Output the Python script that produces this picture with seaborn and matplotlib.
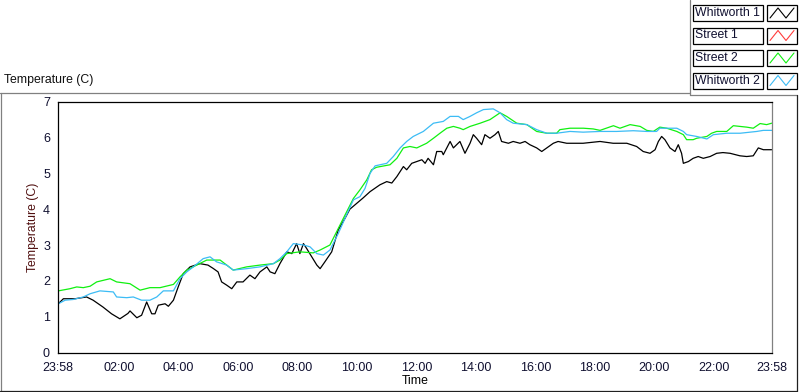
import matplotlib
matplotlib.use("Agg")
import matplotlib.pyplot as plt
import numpy as np
import pandas as pd
import seaborn as sns
from matplotlib.lines import Line2D
from matplotlib.patches import Rectangle

# ---------------- data (hours since 23:58, temperature in C) ----------------
series_names = ["Whitworth 1", "Street 1", "Street 2", "Whitworth 2"]
series_colors = ["#000000", "#ff3c3c", "#10f010", "#3cbcf5"]

w1_hours = [0.00, 0.17, 0.56, 0.95, 1.17, 1.50, 1.79, 2.07, 2.34, 2.41, 2.64, 2.80, 2.97, 3.14,
            3.25, 3.36, 3.59, 3.70, 3.87, 4.03, 4.20, 4.43, 4.76, 5.03, 5.20, 5.37, 5.49, 5.66,
            5.83, 6.00, 6.21, 6.44, 6.61, 6.78, 7.01, 7.12, 7.28, 7.45, 7.68, 7.85, 8.01, 8.12,
            8.24, 8.35, 8.52, 8.69, 8.80, 8.96, 9.19, 9.41, 9.64, 9.80, 10.24, 10.48, 10.81,
            11.04, 11.21, 11.38, 11.49, 11.60, 11.71, 11.88, 12.05, 12.22, 12.33, 12.43, 12.61,
            12.72, 12.89, 12.94, 13.17, 13.28, 13.39, 13.50, 13.67, 13.84, 13.95, 14.06, 14.23,
            14.34, 14.51, 14.68, 14.79, 14.90, 15.13, 15.29, 15.52, 15.69, 15.85, 16.08, 16.25,
            16.42, 16.64, 16.80, 17.09, 17.64, 18.21, 18.65, 19.11, 19.44, 19.66, 19.89, 20.06,
            20.17, 20.28, 20.39, 20.56, 20.73, 20.84, 20.95, 21.01, 21.18, 21.34, 21.51, 21.68,
            21.91, 22.13, 22.34, 22.58, 22.91, 23.14, 23.36, 23.53, 23.70, 23.98]
w1_temp = [1.36, 1.50, 1.50, 1.55, 1.46, 1.27, 1.08, 0.94, 1.09, 1.16, 0.97, 1.04, 1.41, 1.08,
           1.08, 1.32, 1.36, 1.29, 1.46, 1.83, 2.20, 2.39, 2.48, 2.44, 2.35, 2.25, 1.97, 1.88,
           1.78, 1.97, 1.97, 2.16, 2.06, 2.25, 2.39, 2.25, 2.20, 2.48, 2.81, 2.76, 3.04, 2.76,
           3.04, 2.90, 2.67, 2.44, 2.34, 2.53, 2.81, 3.42, 3.75, 4.00, 4.31, 4.49, 4.68,
           4.77, 4.73, 4.91, 5.05, 5.19, 5.10, 5.28, 5.33, 5.38, 5.28, 5.42, 5.24,
           5.61, 5.61, 5.52, 5.89, 5.71, 5.80, 5.89, 5.56, 5.84, 6.08, 5.98, 5.80,
           6.08, 5.98, 6.08, 6.17, 5.89, 5.84, 5.89, 5.84, 5.89, 5.80, 5.71, 5.61,
           5.71, 5.84, 5.89, 5.84, 5.84, 5.89, 5.84, 5.84, 5.75, 5.61, 5.56, 5.66,
           5.89, 6.03, 5.94, 5.71, 5.61, 5.80, 5.56, 5.28, 5.33, 5.42, 5.47, 5.42,
           5.47, 5.56, 5.58, 5.56, 5.49, 5.47, 5.49, 5.71, 5.66, 5.66]

s1_hours = []
s1_temp = []

s2_hours = [0.00, 0.39, 0.62, 0.84, 1.07, 1.29, 1.74, 1.96, 2.41, 2.75, 3.08, 3.42, 3.87, 4.09,
            4.32, 4.65, 4.99, 5.44, 5.66, 5.88, 6.33, 6.78, 7.23, 7.45, 7.68, 8.12, 8.57, 8.80,
            9.13, 9.41, 9.64, 9.92, 10.14, 10.37, 10.53, 10.70, 11.15, 11.38, 11.60, 11.82,
            12.05, 12.38, 12.61, 12.83, 13.06, 13.28, 13.50, 13.61, 13.84, 14.18, 14.51, 14.85,
            15.07, 15.41, 15.75, 16.08, 16.42, 16.75, 16.86, 17.20, 17.65, 17.98, 18.21, 18.66,
            18.88, 19.22, 19.56, 19.78, 20.00, 20.22, 20.45, 20.79, 21.01, 21.12, 21.34, 21.46,
            21.80, 21.96, 22.13, 22.47, 22.69, 23.14, 23.36, 23.59, 23.81, 23.98]
s2_temp = [1.72, 1.78, 1.83, 1.81, 1.85, 1.97, 2.06, 1.97, 1.92, 1.74, 1.81, 1.81, 1.90, 2.11,
           2.30, 2.44, 2.58, 2.58, 2.44, 2.30, 2.39, 2.44, 2.48, 2.58, 2.76, 2.81, 2.78, 2.86,
           3.00, 3.46, 3.84, 4.30, 4.54, 4.82, 5.10, 5.17, 5.24, 5.42, 5.71, 5.75,
           5.71, 5.84, 5.98, 6.12, 6.26, 6.31, 6.26, 6.22, 6.31, 6.40, 6.50, 6.69,
           6.59, 6.40, 6.36, 6.17, 6.12, 6.12, 6.22, 6.26, 6.26, 6.24, 6.20, 6.33,
           6.26, 6.36, 6.31, 6.20, 6.17, 6.29, 6.26, 6.17, 6.08, 5.94, 5.94, 5.98,
           6.03, 6.12, 6.17, 6.17, 6.33, 6.29, 6.26, 6.39, 6.36, 6.40]

w2_hours = [0.00, 0.23, 0.50, 0.84, 1.07, 1.40, 1.85, 1.96, 2.30, 2.52, 2.80, 3.08, 3.31, 3.53,
            3.87, 4.09, 4.32, 4.54, 4.87, 5.10, 5.32, 5.66, 5.88, 6.33, 6.78, 7.23, 7.45, 7.68,
            7.90, 8.24, 8.46, 8.69, 8.91, 9.13, 9.41, 9.64, 9.92, 10.14, 10.31, 10.48, 10.65,
            11.04, 11.26, 11.49, 11.71, 11.93, 12.27, 12.61, 12.94, 13.17, 13.45, 13.61, 13.84,
            14.06, 14.29, 14.62, 14.85, 15.07, 15.29, 15.75, 16.08, 16.42, 16.75, 17.20, 17.64,
            18.21, 18.77, 19.33, 19.78, 20.11, 20.22, 20.79, 21.01, 21.12, 21.46, 21.80, 22.02,
            22.47, 22.92, 23.48, 23.70, 23.98]
w2_temp = [1.36, 1.46, 1.48, 1.55, 1.64, 1.72, 1.69, 1.55, 1.53, 1.55, 1.46, 1.46, 1.55, 1.72,
           1.72, 2.06, 2.25, 2.39, 2.62, 2.67, 2.53, 2.44, 2.30, 2.34, 2.39, 2.48, 2.62, 2.81,
           3.04, 3.00, 2.95, 2.76, 2.72, 2.86, 3.32, 3.75, 4.26, 4.35, 4.58, 5.00, 5.21,
           5.28, 5.47, 5.71, 5.89, 6.03, 6.17, 6.40, 6.45, 6.59, 6.59, 6.50, 6.59,
           6.69, 6.78, 6.80, 6.69, 6.50, 6.40, 6.36, 6.22, 6.12, 6.12, 6.17, 6.15,
           6.17, 6.17, 6.19, 6.17, 6.17, 6.26, 6.26, 6.17, 6.08, 6.03, 5.96, 6.08,
           6.12, 6.12, 6.17, 6.20, 6.20]

x_tick_labels = ["23:58", "02:00", "04:00", "06:00", "08:00", "10:00", "12:00",
                 "14:00", "16:00", "18:00", "20:00", "22:00", "23:58"]
y_ticks = [0, 1, 2, 3, 4, 5, 6, 7]

chart_title = "Temperature (C)"
x_label = "Time"
y_label = "Temperature (C)"

# ---------------- build long table ----------------
frames = []
for name, hrs, tmp in [("Whitworth 1", w1_hours, w1_temp), ("Street 1", s1_hours, s1_temp),
                       ("Street 2", s2_hours, s2_temp), ("Whitworth 2", w2_hours, w2_temp)]:
    if len(hrs):
        frames.append(pd.DataFrame({"hours": hrs, "temp": tmp, "series": name}))
df = pd.concat(frames, ignore_index=True)

# tick positions from labels (hours since 23:58)
start_min = 23 * 60 + 58
x_tick_pos = []
for i, lab in enumerate(x_tick_labels):
    h, m = map(int, lab.split(":"))
    p = ((h * 60 + m - start_min) % 1440) / 60.0
    if i == len(x_tick_labels) - 1:
        p = 24.0
    x_tick_pos.append(p)
minor_pos = [x_tick_pos[1] + 0.2 * k for k in range(-10, 111)]
minor_pos = [p for p in minor_pos if 0 < p < 24 and min(abs(p - q) for q in x_tick_pos) > 0.05]

# ---------------- figure ----------------
sns.set_style("white")
plt.rcParams["font.family"] = ["Liberation Sans", "DejaVu Sans"]
W, H = 800, 392
fig = plt.figure(figsize=(W / 100, H / 100), dpi=100)


def fx(px):
    return px / W


def fy(py):
    return 1 - py / H


ax_l, ax_r, ax_t, ax_b = 58.3, 772.3, 101.7, 352.5
ax = fig.add_axes([fx(ax_l), fy(ax_b), fx(ax_r) - fx(ax_l), fy(ax_t) - fy(ax_b)])

palette = {n: c for n, c in zip(series_names, series_colors)}
sns.lineplot(data=df, x="hours", y="temp", hue="series", palette=palette, estimator=None,
             sort=False, legend=False, linewidth=0.9, ax=ax)

ax.set_xlim(0, 24)
ax.set_ylim(0, 7)
ax.set_xticks(x_tick_pos)
ax.set_xticklabels(x_tick_labels)
ax.set_xticks(minor_pos, minor=True)
ax.set_yticks(y_ticks)
ax.set_yticklabels([str(v) for v in y_ticks])
ax.tick_params(axis="x", which="major", length=4.5, width=0.8, color="black", pad=2,
               labelsize=9, labelcolor="#101030", direction="out")
ax.tick_params(axis="x", which="minor", length=2.3, width=0.8, color="black", direction="out")
ax.tick_params(axis="y", which="major", length=4.5, width=0.8, color="black", pad=1.5,
               labelsize=9, labelcolor="#101030", direction="out")
ax.set_xlabel(x_label, fontsize=8.8, color="black", labelpad=1)
ax.set_ylabel(y_label, fontsize=8.8, color="#501010", labelpad=3)
for side in ["left", "bottom", "top"]:
    ax.spines[side].set_color("black")
    ax.spines[side].set_linewidth(0.9)
ax.spines["right"].set_color("#808080")
ax.spines["right"].set_linewidth(0.9)
for s in ax.spines.values():
    s.set_visible(True)
ax.grid(False)

# chart caption
fig.text(fx(4), fy(80), chart_title, fontsize=8.8, color="#101010", ha="left", va="center")


# frame lines
def fline(x0, y0, x1, y1, color, lw=0.9):
    fig.add_artist(Line2D([fx(x0), fx(x1)], [fy(y0), fy(y1)], color=color, lw=lw,
                          transform=fig.transFigure))


gray = "#808080"
fline(0, 92.5, 689.5, 92.5, gray)
fline(0.5, 92.5, 0.5, 391, gray)
fline(689.5, 0, 689.5, 94.5, gray)
fline(689.5, 94.5, 797, 94.5, gray)
fline(797, 94.5, 797, 391, "#202020")
fline(0, 391, 797, 391, "#202020")

# legend (LabVIEW style plot legend)
row_top = [5, 27.5, 50, 72.5]
row_h = 16
for name, col, top in zip(series_names, series_colors, row_top):
    fig.add_artist(Rectangle((fx(693), fy(top + row_h)), fx(763) - fx(693), fy(top) - fy(top + row_h),
                             transform=fig.transFigure, facecolor="white", edgecolor="black", lw=0.9))
    fig.text(fx(695), fy(top + row_h / 2), name, fontsize=8.8, color="#101030",
             ha="left", va="center")
    fig.add_artist(Rectangle((fx(767), fy(top + row_h)), fx(797) - fx(767), fy(top) - fy(top + row_h),
                             transform=fig.transFigure, facecolor="white", edgecolor="black", lw=0.9))
    zx = [770, 778, 786, 794]
    zy = [top + row_h - 3, top + 3, top + row_h - 3, top + 3]
    fig.add_artist(Line2D([fx(v) for v in zx], [fy(v) for v in zy], color=col, lw=0.8,
                          transform=fig.transFigure))

fig.savefig("out.png", dpi=100)
